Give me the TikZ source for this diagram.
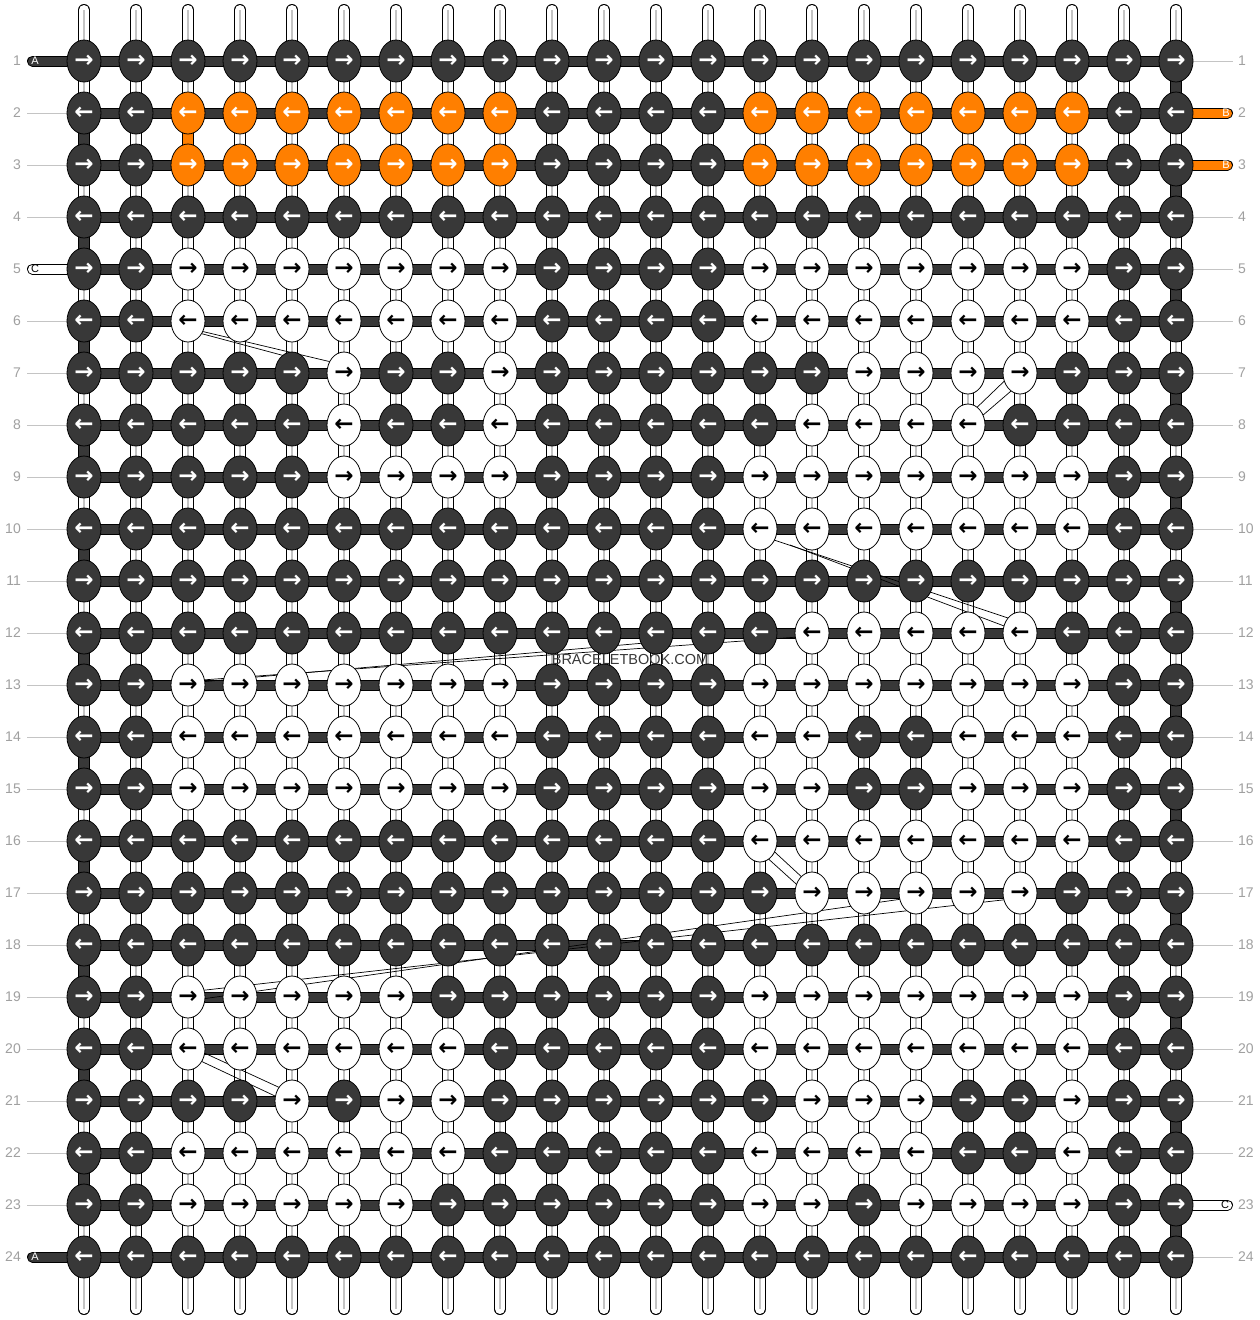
\documentclass[tikz,border=0pt]{standalone}
\usepackage{fontspec}
\setmainfont{Liberation Sans}
\newfontfamily\arrowfont{DejaVu Sans}
\usetikzlibrary{shapes.geometric}
\definecolor{knotdark}{HTML}{383838}
\definecolor{knotorange}{HTML}{FF7F00}
\definecolor{numgray}{HTML}{A0A0A0}
\definecolor{linegray}{HTML}{C4C4C4}
\definecolor{wmgray}{HTML}{383838}
\pgfdeclarelayer{strandlayer}
\pgfdeclarelayer{barlayer}
\pgfdeclarelayer{marklayer}
\pgfsetlayers{strandlayer,barlayer,marklayer,main}
\tikzset{
  knot/.style={ellipse, draw=black, line width=0.8pt, minimum width=34pt, minimum height=42pt, inner sep=0pt,
    font=\arrowfont\bfseries\fontsize{23}{23}\selectfont},
  knotD/.style={fill=knotdark, text=white},
  knotW/.style={fill=white, text=black},
  knotO/.style={fill=knotorange, text=white},
  hbar/.style={line width=1pt, double=knotdark, double distance=9pt, shorten <=-3pt, shorten >=-3pt},
  edgeseg/.style={line width=1pt, double=knotdark, double distance=10pt, shorten <=-3pt, shorten >=-3pt},
  orangeseg/.style={line width=1pt, double=knotorange, double distance=10pt, shorten <=-3pt, shorten >=-3pt},
  strand/.style={line width=1pt, double=white, double distance=10pt, line cap=round},
  strandcore/.style={line width=1.2pt, draw=linegray},
  thread/.style={line width=1pt, double=#1, double distance=9pt, line cap=round},
  endlabel/.style={inner sep=0pt, font=\fontsize{11}{11}\selectfont},
  rownum/.style={inner sep=0pt, text=numgray, font=\fontsize{14}{14}\selectfont},
  rowline/.style={draw=linegray, line width=1pt},
  ribbon/.style={draw=black, line width=0.7pt},
  wm/.style={inner sep=1pt, text=wmgray, font=\fontsize{14.5}{15}\selectfont}
}
\begin{document}
\begin{tikzpicture}[x=1pt,y=-1pt]
\useasboundingbox (0,0) rectangle (1260,1320);
\begin{pgfonlayer}{strandlayer}
  \fill[white] (0,0) rectangle (1260,1320);
\end{pgfonlayer}
% knots
\foreach \r/\pat in {
 1/{D,D,D,D,D,D,D,D,D,D,D,D,D,D,D,D,D,D,D,D,D,D},
 2/{D,D,O,O,O,O,O,O,O,D,D,D,D,O,O,O,O,O,O,O,D,D},
 3/{D,D,O,O,O,O,O,O,O,D,D,D,D,O,O,O,O,O,O,O,D,D},
 4/{D,D,D,D,D,D,D,D,D,D,D,D,D,D,D,D,D,D,D,D,D,D},
 5/{D,D,W,W,W,W,W,W,W,D,D,D,D,W,W,W,W,W,W,W,D,D},
 6/{D,D,W,W,W,W,W,W,W,D,D,D,D,W,W,W,W,W,W,W,D,D},
 7/{D,D,D,D,D,W,D,D,W,D,D,D,D,D,D,W,W,W,W,D,D,D},
 8/{D,D,D,D,D,W,D,D,W,D,D,D,D,D,W,W,W,W,D,D,D,D},
 9/{D,D,D,D,D,W,W,W,W,D,D,D,D,W,W,W,W,W,W,W,D,D},
 10/{D,D,D,D,D,D,D,D,D,D,D,D,D,W,W,W,W,W,W,W,D,D},
 11/{D,D,D,D,D,D,D,D,D,D,D,D,D,D,D,D,D,D,D,D,D,D},
 12/{D,D,D,D,D,D,D,D,D,D,D,D,D,D,W,W,W,W,W,D,D,D},
 13/{D,D,W,W,W,W,W,W,W,D,D,D,D,W,W,W,W,W,W,W,D,D},
 14/{D,D,W,W,W,W,W,W,W,D,D,D,D,W,W,D,D,W,W,W,D,D},
 15/{D,D,W,W,W,W,W,W,W,D,D,D,D,W,W,D,D,W,W,W,D,D},
 16/{D,D,D,D,D,D,D,D,D,D,D,D,D,W,W,W,W,W,W,W,D,D},
 17/{D,D,D,D,D,D,D,D,D,D,D,D,D,D,W,W,W,W,W,D,D,D},
 18/{D,D,D,D,D,D,D,D,D,D,D,D,D,D,D,D,D,D,D,D,D,D},
 19/{D,D,W,W,W,W,W,D,D,D,D,D,D,W,W,W,W,W,W,W,D,D},
 20/{D,D,W,W,W,W,W,W,D,D,D,D,D,W,W,W,W,W,W,W,D,D},
 21/{D,D,D,D,W,D,W,W,D,D,D,D,D,D,W,W,W,D,D,W,D,D},
 22/{D,D,W,W,W,W,W,W,D,D,D,D,D,W,W,W,W,D,D,W,D,D},
 23/{D,D,W,W,W,W,W,D,D,D,D,D,D,W,W,D,W,W,W,W,D,D},
 24/{D,D,D,D,D,D,D,D,D,D,D,D,D,D,D,D,D,D,D,D,D,D}} {
  \pgfmathtruncatemacro\y{61+52*(\r-1)}
  \pgfmathtruncatemacro\odd{mod(\r,2)}
  \ifnum\odd=1 \def\arr{→}\else\def\arr{←}\fi
  \foreach \k [count=\c] in \pat {
    \pgfmathtruncatemacro\x{84+52*(\c-1)}
    \node[knot, knot\k] (k-\r-\c) at (\x,\y) {\arr};
  }
}
% vertical strands
\begin{pgfonlayer}{strandlayer}
\foreach \c in {1,...,22} {
  \pgfmathtruncatemacro\x{84+52*(\c-1)}
  \coordinate (top-\c) at (\x,10);
  \coordinate (bot-\c) at (\x,1309);
  \draw[strand] (top-\c) -- (bot-\c);
  \draw[strandcore] (top-\c) -- (bot-\c);
}
\end{pgfonlayer}
% horizontal bars, edge turns, orange segment, end threads
\begin{pgfonlayer}{barlayer}
\foreach \r in {1,...,24} {
  \foreach \c in {1,...,21} {
    \pgfmathtruncatemacro\cn{\c+1}
    \draw[hbar] (k-\r-\c) -- (k-\r-\cn);
  }
}
\foreach \r in {2,4,...,22} {
  \pgfmathtruncatemacro\rn{\r+1}
  \draw[edgeseg] (k-\r-1) -- (k-\rn-1);
}
\foreach \r in {1,3,...,23} {
  \pgfmathtruncatemacro\rn{\r+1}
  \draw[edgeseg] (k-\r-22) -- (k-\rn-22);
}
\draw[orangeseg] (k-2-3) -- (k-3-3);
\coordinate (in-1) at (32.5,61);
\coordinate (in-5) at (32.5,269);
\coordinate (in-24) at (32.5,1257);
\coordinate (out-2) at (1227.5,113);
\coordinate (out-3) at (1227.5,165);
\coordinate (out-23) at (1227.5,1205);
\draw[thread=knotdark] (in-1) -- (k-1-1);
\draw[thread=knotdark] (in-24) -- (k-24-1);
\draw[thread=white] (in-5) -- (k-5-1);
\draw[thread=knotorange] (k-2-22) -- (out-2);
\draw[thread=knotorange] (k-3-22) -- (out-3);
\draw[thread=white] (k-23-22) -- (out-23);
% row guide lines
\foreach \r in {2,3,4,6,7,8,9,10,11,12,13,14,15,16,17,18,19,20,21,22,23} {
  \pgfmathtruncatemacro\y{61+52*(\r-1)}
  \coordinate (ls-\r) at (27,\y);
  \draw[rowline] (ls-\r) -- (k-\r-1);
}
\foreach \r in {1,4,5,6,7,8,9,10,11,12,13,14,15,16,17,18,19,20,21,22,24} {
  \pgfmathtruncatemacro\y{61+52*(\r-1)}
  \coordinate (re-\r) at (1233,\y);
  \draw[rowline] (k-\r-22) -- (re-\r);
}
\end{pgfonlayer}
% watermark ribbons
\begin{pgfonlayer}{marklayer}
  \draw[ribbon] (188,330) -- (300,360);
  \draw[ribbon] (188,328) -- (344,365);
  \draw[ribbon] (1020,366) -- (968,416);
  \draw[ribbon] (1025,379) -- (975,422);
  \draw[ribbon] (762,536) -- (1020,622);
  \draw[ribbon] (790,545) -- (1020,632);
  \draw[ribbon] (188,681) -- (812,636);
  \draw[ribbon] (188,683) -- (656,642);
  \draw[ribbon] (765,843) -- (805,880);
  \draw[ribbon] (763,854) -- (805,892);
  \draw[ribbon] (1020,898) -- (188,992);
  \draw[ribbon] (916,897) -- (188,1001);
  \draw[ribbon] (188,1055) -- (292,1104);
  \draw[ribbon] (200,1051) -- (300,1097);
\end{pgfonlayer}
% thread labels
\node[endlabel, text=white] (lab-a1) at (35,61) {A};
\node[endlabel, text=white] (lab-a24) at (35,1257) {A};
\node[endlabel, text=black] (lab-c5) at (35,269) {C};
\node[endlabel, text=white] (lab-b2) at (1226,113) {B};
\node[endlabel, text=white] (lab-b3) at (1226,165) {B};
\node[endlabel, text=black] (lab-c23) at (1225,1205) {C};
% row numbers
\foreach \r in {1,...,24} {
  \pgfmathtruncatemacro\y{61+52*(\r-1)}
  \node[rownum, anchor=east] (ln-\r) at (21,\y) {\r};
  \node[rownum, anchor=west] (rn-\r) at (1238,\y) {\r};
}
\node[wm] (wm) at (630,659) {BRACELETBOOK.COM};
\end{tikzpicture}
\end{document}
